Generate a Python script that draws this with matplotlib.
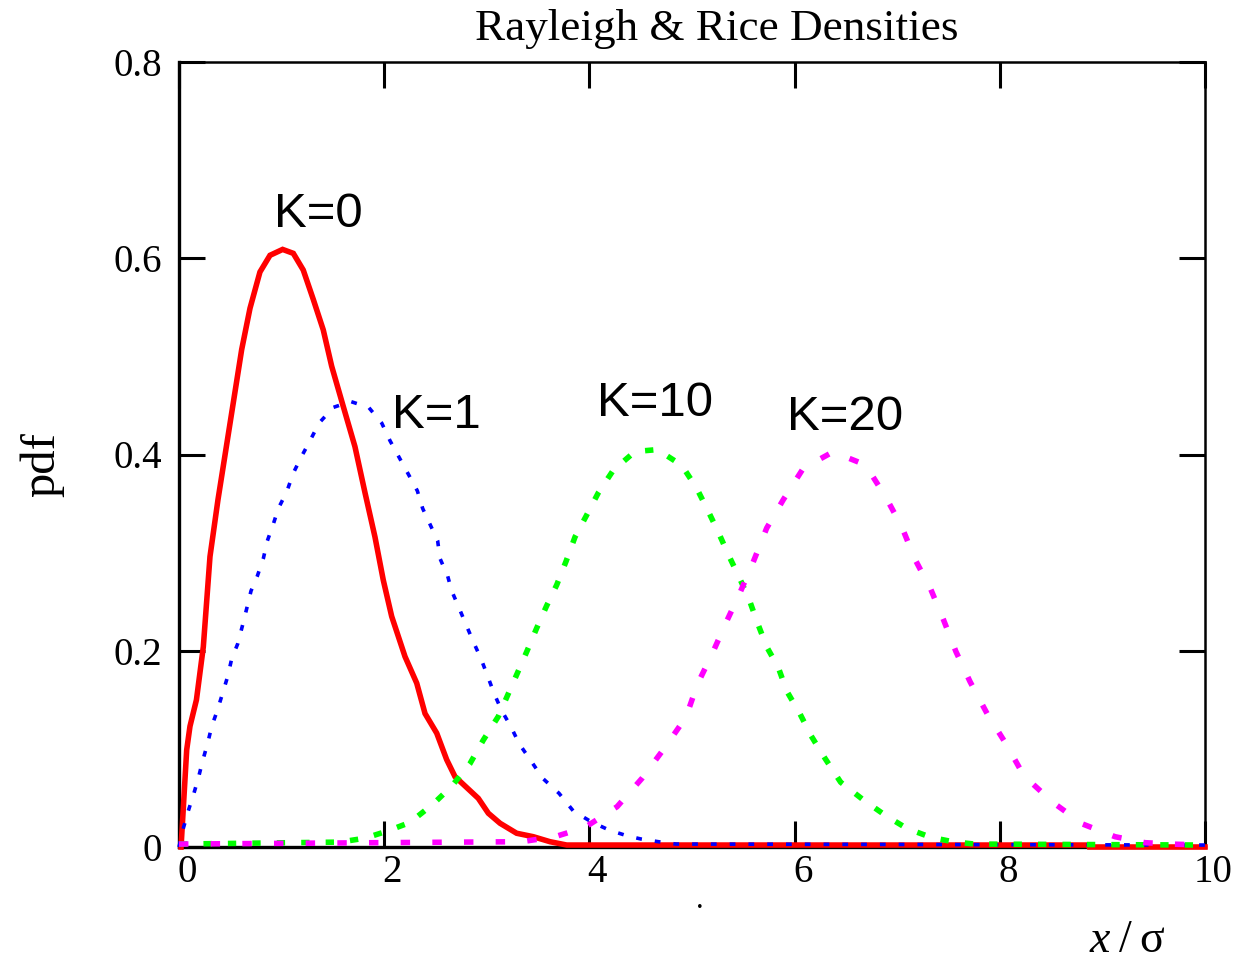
import matplotlib
matplotlib.use("Agg")
import matplotlib.pyplot as plt
import matplotlib.transforms as mtransforms

# Rayleigh (K=0) and Rice (K=1, 10, 20) densities, sampled curves
k0_x = [0.02, 0.075, 0.107, 0.17, 0.237, 0.302, 0.38, 0.611, 0.692, 0.789, 0.887, 1.01,
        1.114, 1.211, 1.309, 1.406, 1.488, 1.601, 1.715, 1.813, 1.91, 1.991, 2.073, 2.203,
        2.317, 2.398, 2.512, 2.609, 2.69, 2.917, 3.015, 3.129, 3.291, 3.453, 3.616, 3.779,
        8.86, 8.87, 10.0]
k0_y = [0.0, 0.099, 0.123, 0.15, 0.204, 0.296, 0.354, 0.507, 0.549, 0.586, 0.603, 0.609,
        0.605, 0.588, 0.558, 0.527, 0.490, 0.449, 0.408, 0.361, 0.316, 0.272, 0.235, 0.194,
        0.167, 0.136, 0.116, 0.089, 0.0717, 0.0496, 0.0344, 0.0242, 0.014, 0.0105, 0.0054, 0.002,
        0.002, 0.0, 0.0]

k1_x = [0.0, 0.042, 0.091, 0.146, 0.188, 0.231, 0.280, 0.319, 0.373, 0.426, 0.475, 0.514,
        0.572, 0.617, 0.660, 0.702, 0.763, 0.822, 0.861, 0.919, 0.968, 1.050, 1.114, 1.189,
        1.277, 1.365, 1.504, 1.673, 1.849, 1.976, 2.057, 2.235, 2.323, 2.375, 2.446, 2.521,
        2.544, 2.619, 2.658, 2.732, 2.804, 2.878, 2.943, 3.005, 3.073, 3.145, 3.233, 3.317,
        3.431, 3.545, 3.704, 3.843, 4.016, 4.191, 4.364, 4.500, 4.672, 4.844, 10.0]
k1_y = [0.0, 0.019, 0.037, 0.055, 0.070, 0.088, 0.106, 0.123, 0.139, 0.157, 0.174, 0.192,
        0.207, 0.225, 0.243, 0.261, 0.276, 0.294, 0.312, 0.329, 0.345, 0.362, 0.381, 0.397,
        0.414, 0.432, 0.448, 0.454, 0.448, 0.432, 0.414, 0.380, 0.363, 0.345, 0.329, 0.312,
        0.294, 0.276, 0.261, 0.243, 0.225, 0.207, 0.192, 0.175, 0.156, 0.139, 0.123, 0.105,
        0.0877, 0.070, 0.0547, 0.0367, 0.0258, 0.0173, 0.0115, 0.0082, 0.0054, 0.003, 0.002]

k10_x = [0.0, 1.569, 1.813, 2.024, 2.251, 2.479, 2.658, 2.836, 2.966, 3.112, 3.297, 3.389,
         3.486, 3.584, 3.681, 3.772, 3.860, 3.967, 4.087, 4.233, 4.444, 4.662, 4.900, 5.044,
         5.159, 5.256, 5.354, 5.468, 5.558, 5.636, 5.728, 5.841, 5.923, 6.053, 6.16, 6.296,
         6.449, 6.67, 6.888, 7.093, 7.327, 7.541, 7.752, 10.0]
k10_y = [0.003, 0.005, 0.009, 0.016, 0.025, 0.044, 0.062, 0.085, 0.109, 0.133, 0.177, 0.199,
         0.223, 0.246, 0.267, 0.291, 0.316, 0.337, 0.361, 0.384, 0.403, 0.405, 0.389, 0.366,
         0.342, 0.321, 0.298, 0.273, 0.252, 0.229, 0.204, 0.183, 0.159, 0.1356, 0.1135, 0.0904,
         0.066, 0.048, 0.032, 0.019, 0.0099, 0.0054, 0.003, 0.002]

k20_x = [0.0, 3.340, 3.665, 3.957, 4.269, 4.513, 4.740, 4.942, 5.052, 5.195, 5.330, 5.468,
         5.595, 5.728, 5.890, 6.085, 6.374, 6.691, 6.889, 7.044, 7.173, 7.327, 7.453, 7.573,
         7.710, 7.878, 8.057, 8.236, 8.521, 8.808, 9.123, 9.415, 9.724, 10.0]
k20_y = [0.003, 0.0054, 0.0105, 0.020, 0.041, 0.070, 0.102, 0.1325, 0.1657, 0.1965, 0.2283, 0.2592,
         0.290, 0.325, 0.354, 0.386, 0.4027, 0.3894, 0.3565, 0.3265, 0.2933, 0.2627, 0.2311, 0.199,
         0.1685, 0.1356, 0.1057, 0.0724, 0.0452, 0.0234, 0.0105, 0.0044, 0.0028, 0.002]

x_ticks = [0, 2, 4, 6, 8, 10]
x_tick_labels = ["0", "2", "4", "6", "8", "10"]
y_ticks = [0, 0.2, 0.4, 0.6, 0.8]
y_tick_labels = ["0", "0.2", "0.4", "0.6", "0.8"]

curve_labels = ["K=0", "K=1", "K=10", "K=20"]

SERIF = "Liberation Serif"
SANS = "Liberation Sans"

fig = plt.figure(figsize=(12.44, 9.6), dpi=100)
ax = fig.add_axes([179 / 1244, 1 - 847 / 960, (1205 - 179) / 1244, (847 - 62) / 960])

ax.plot(k0_x, k0_y, color="#ff0000", lw=4.0, solid_joinstyle="miter", clip_on=False, zorder=3)
ax.plot(k1_x, k1_y, color="#0000ff", lw=2.6, linestyle=(0, (1.6, 3.6)),
        dash_capstyle="butt", clip_on=False, zorder=4)
ax.plot(k10_x, k10_y, color="#00ff00", lw=4.0, linestyle=(0, (1.5, 2.9)),
        dash_capstyle="butt", clip_on=False, zorder=5)
ax.plot(k20_x, k20_y, color="#ff00ff", lw=4.0, linestyle=(0, (1.7, 4.0)),
        dash_capstyle="butt", clip_on=False, zorder=6)

ax.set_xlim(0, 10)
ax.set_ylim(0, 0.8)

ax.set_xticks(x_ticks)
ax.set_xticklabels(x_tick_labels, fontfamily=SERIF, fontsize=28)
ax.set_yticks(y_ticks)
ax.set_yticklabels(y_tick_labels, fontfamily=SERIF, fontsize=28)

ax.tick_params(axis="both", direction="in", length=19, width=2.2, color="black",
               top=True, right=True)
ax.tick_params(axis="x", pad=5)
ax.tick_params(axis="y", pad=12)

shift = mtransforms.ScaledTranslation(8 / 100, 0, fig.dpi_scale_trans)
for lab in ax.get_xticklabels():
    lab.set_transform(lab.get_transform() + shift)

for side, w in (("left", 2.4), ("bottom", 2.4), ("top", 1.8), ("right", 1.8)):
    ax.spines[side].set_linewidth(w)
    ax.spines[side].set_color("black")

# curve annotations
label_pos = [(1.355, 0.645), (2.51, 0.440), (4.64, 0.452), (6.49, 0.438)]
for txt, (lx, ly) in zip(curve_labels, label_pos):
    ax.text(lx, ly, txt, fontfamily=SANS, fontsize=35.5, ha="center", va="center", zorder=7)

fig.text(717 / 1244, 1 - 29 / 960, "Rayleigh & Rice Densities", fontfamily=SERIF,
         fontsize=32.5, ha="center", va="center")
fig.text(42 / 1244, 1 - 465 / 960, "pdf", fontfamily=SERIF, fontsize=35,
         rotation=90, ha="center", va="center")
# x-axis caption: italic x, slash, upright sigma (baseline-anchored)
cap_y = 1 - 952 / 960
fig.text(1100 / 1244, cap_y, "x", fontfamily=SERIF, fontstyle="italic",
         fontsize=33, ha="center", va="baseline")
fig.text(1125 / 1244, cap_y, "/", fontfamily=SERIF,
         fontsize=33, ha="center", va="baseline")
fig.text(1152 / 1244, cap_y, "\u03c3", fontfamily=SERIF,
         fontsize=33, ha="center", va="baseline")
fig.text(700 / 1244, 1 - 900 / 960, ".", fontfamily=SERIF, fontsize=22,
         ha="center", va="center")

fig.savefig("out.png", dpi=100, facecolor="white")
